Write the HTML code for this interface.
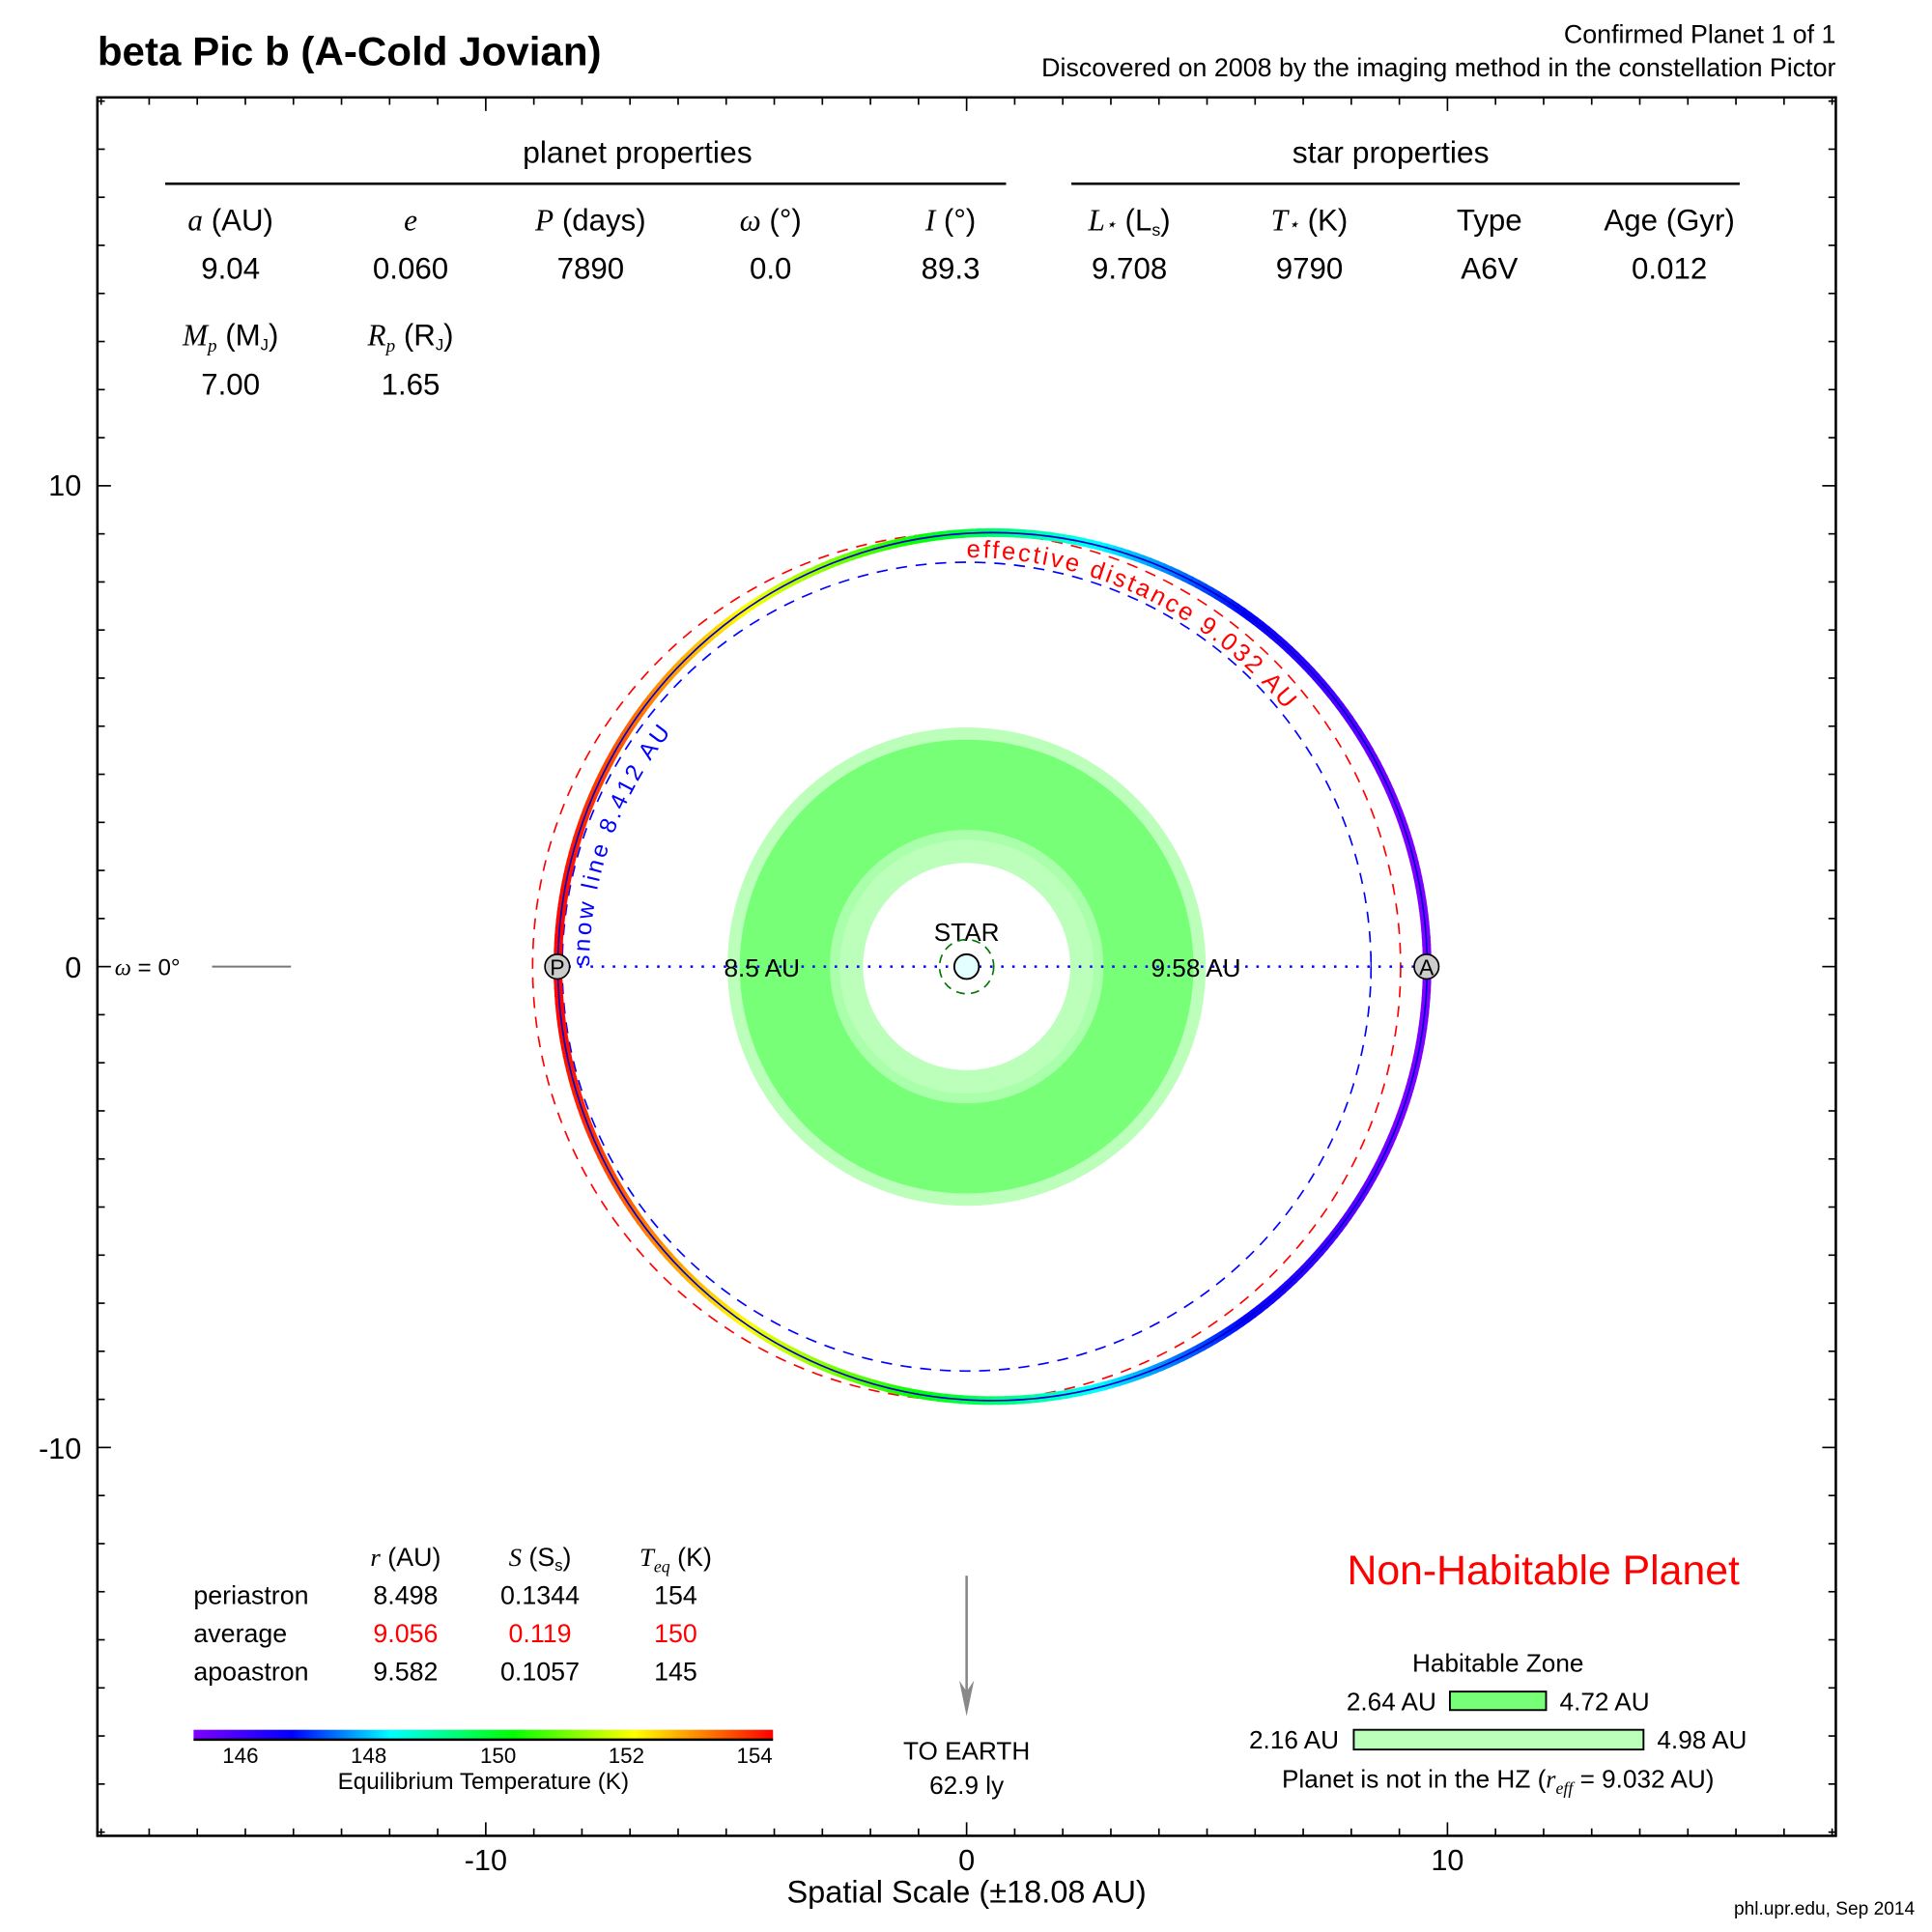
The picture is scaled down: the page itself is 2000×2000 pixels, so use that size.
<!DOCTYPE html>
<html><head><meta charset="utf-8">
<style>
html,body{margin:0;padding:0;background:#fff;}
svg{display:block;}
text{font-family:"Liberation Sans",Arial,sans-serif;fill:#000;}
.it{font-family:"Liberation Serif",serif;font-style:italic;}
</style></head>
<body>
<svg id="s" xmlns="http://www.w3.org/2000/svg" width="2000" height="2000" viewBox="0 0 1567 1567">
<rect width="1567" height="1567" fill="#fff"/>
<text x="79" y="53" font-size="33" font-weight="bold">beta Pic b (A-Cold Jovian)</text>
<text x="1489" y="35" font-size="21" text-anchor="end">Confirmed Planet 1 of 1</text>
<text x="1489" y="62" font-size="21" text-anchor="end">Discovered on 2008 by the imaging method in the constellation Pictor</text>

<g id="ticks" stroke="#000" stroke-width="1.3"></g>
<rect x="79" y="79" width="1410" height="1410" fill="none" stroke="#000" stroke-width="2"/>

<text x="517" y="132" font-size="25" text-anchor="middle">planet properties</text>
<line x1="134" y1="149" x2="816" y2="149" stroke="#000" stroke-width="2"/>
<text x="1128" y="132" font-size="25" text-anchor="middle">star properties</text>
<line x1="869" y1="149" x2="1411" y2="149" stroke="#000" stroke-width="2"/>
<g font-size="24.5" text-anchor="middle">
<text x="187" y="187"><tspan class="it">a</tspan> (AU)</text>
<text x="333" y="187" class="it">e</text>
<text x="479" y="187"><tspan class="it">P</tspan> (days)</text>
<text x="625" y="187"><tspan class="it">ω</tspan> (°)</text>
<text x="771" y="187"><tspan class="it">I</tspan> (°)</text>
<text x="916" y="187"><tspan class="it">L</tspan><tspan class="it" font-size="15">⋆</tspan> (L<tspan font-size="14" dy="4">s</tspan><tspan dy="-4">)</tspan></text>
<text x="1062" y="187"><tspan class="it">T</tspan><tspan class="it" font-size="15">⋆</tspan> (K)</text>
<text x="1208" y="187">Type</text>
<text x="1354" y="187">Age (Gyr)</text>
<text x="187" y="226">9.04</text>
<text x="333" y="226">0.060</text>
<text x="479" y="226">7890</text>
<text x="625" y="226">0.0</text>
<text x="771" y="226">89.3</text>
<text x="916" y="226">9.708</text>
<text x="1062" y="226">9790</text>
<text x="1208" y="226">A6V</text>
<text x="1354" y="226">0.012</text>
<text x="187" y="280"><tspan class="it">M</tspan><tspan class="it" font-size="15" dy="5">p</tspan><tspan dy="-5"> (M</tspan><tspan font-size="13" dy="4">J</tspan><tspan dy="-4">)</tspan></text>
<text x="333" y="280"><tspan class="it">R</tspan><tspan class="it" font-size="15" dy="5">p</tspan><tspan dy="-5"> (R</tspan><tspan font-size="13" dy="4">J</tspan><tspan dy="-4">)</tspan></text>
<text x="187" y="320">7.00</text>
<text x="333" y="320">1.65</text>
</g>

<g font-size="24">
<text x="66" y="402" text-anchor="end">10</text>
<text x="66" y="793" text-anchor="end">0</text>
<text x="66" y="1183" text-anchor="end">-10</text>
<text x="394" y="1517" text-anchor="middle">-10</text>
<text x="784" y="1517" text-anchor="middle">0</text>
<text x="1174" y="1517" text-anchor="middle">10</text>
<text x="784" y="1543" font-size="25.5" text-anchor="middle">Spatial Scale (±18.08 AU)</text>
</g>
<text x="1553" y="1553" font-size="15" text-anchor="end">phl.upr.edu, Sep 2014</text>
<text x="93" y="791" font-size="19"><tspan class="it">ω</tspan> = 0°</text>
<line x1="172" y1="784" x2="236" y2="784" stroke="#777" stroke-width="1.5"/>

<circle cx="784" cy="784" r="194" fill="#bbffbb"/>
<circle cx="784" cy="784" r="184" fill="#77ff77"/>
<circle cx="784" cy="784" r="111" fill="#aaffaa"/>
<circle cx="784" cy="784" r="103" fill="#bbffbb"/>
<circle cx="784" cy="784" r="84" fill="#fff"/>

<circle cx="784" cy="784" r="352" fill="none" stroke="#f00" stroke-width="1.3" stroke-dasharray="9,7"/>
<circle cx="784" cy="784" r="328" fill="none" stroke="#00f" stroke-width="1.3" stroke-dasharray="9,7"/>

<g id="orbit"></g>
<ellipse cx="805" cy="784" rx="352.5" ry="352" fill="none" stroke="#0000cc" stroke-width="1.3"/>

<defs>
<path id="effp" d="M784,452 A332,332 0 0 1 784,1116 A332,332 0 0 1 784,452"/>
<path id="snowp" d="M478,784 A306,306 0 0 1 1090,784 A306,306 0 0 1 478,784"/>
</defs>
<text font-size="20" style="fill:#f00"><textPath href="#effp" textLength="296" lengthAdjust="spacing">effective distance 9.032 AU</textPath></text>
<text font-size="19" style="fill:#00f"><textPath href="#snowp" textLength="205" lengthAdjust="spacing">snow line 8.412 AU</textPath></text>

<line x1="452" y1="784" x2="1157" y2="784" stroke="#00f" stroke-width="2" stroke-dasharray="2,7"/>
<line x1="1112" y1="774" x2="1112" y2="794" stroke="#00f" stroke-width="1"/>
<text x="618" y="792" font-size="20.5" text-anchor="middle">8.5 AU</text>
<text x="970" y="792" font-size="20.5" text-anchor="middle">9.58 AU</text>
<text x="784" y="763" font-size="20.5" text-anchor="middle">STAR</text>
<circle cx="784" cy="784" r="22" fill="none" stroke="#070" stroke-width="1.3" stroke-dasharray="7,5"/>
<circle cx="784" cy="784" r="10" fill="#e4ffff" stroke="#000" stroke-width="1.5"/>
<circle cx="452" cy="784" r="10" fill="#ccc" stroke="#000" stroke-width="1.3"/>
<text x="452" y="791" font-size="18" text-anchor="middle">P</text>
<circle cx="1157" cy="784" r="10" fill="#ccc" stroke="#000" stroke-width="1.3"/>
<text x="1157" y="791" font-size="18" text-anchor="middle">A</text>

<g font-size="21">
<text x="329" y="1270" text-anchor="middle"><tspan class="it">r</tspan> (AU)</text>
<text x="438" y="1270" text-anchor="middle"><tspan class="it">S</tspan> (S<tspan font-size="13" dy="4">s</tspan><tspan dy="-4">)</tspan></text>
<text x="548" y="1270" text-anchor="middle"><tspan class="it">T</tspan><tspan class="it" font-size="14" dy="5">eq</tspan><tspan dy="-5"> (K)</tspan></text>
<text x="157" y="1301">periastron</text>
<text x="157" y="1332">average</text>
<text x="157" y="1363">apoastron</text>
<text x="329" y="1301" text-anchor="middle">8.498</text>
<text x="438" y="1301" text-anchor="middle">0.1344</text>
<text x="548" y="1301" text-anchor="middle">154</text>
<text x="329" y="1332" text-anchor="middle" style="fill:#f00">9.056</text>
<text x="438" y="1332" text-anchor="middle" style="fill:#f00">0.119</text>
<text x="548" y="1332" text-anchor="middle" style="fill:#f00">150</text>
<text x="329" y="1363" text-anchor="middle">9.582</text>
<text x="438" y="1363" text-anchor="middle">0.1057</text>
<text x="548" y="1363" text-anchor="middle">145</text>
</g>

<defs>
<linearGradient id="cb" x1="0" x2="1" y1="0" y2="0">
<stop offset="0" stop-color="#8000ff"/>
<stop offset="0.17" stop-color="#0000ff"/>
<stop offset="0.34" stop-color="#00ffff"/>
<stop offset="0.55" stop-color="#00ff00"/>
<stop offset="0.76" stop-color="#ffff00"/>
<stop offset="0.88" stop-color="#ff8000"/>
<stop offset="1" stop-color="#ff0000"/>
</linearGradient>
</defs>
<rect x="157" y="1403" width="470" height="8" fill="url(#cb)"/>
<line x1="157" y1="1411" x2="627" y2="1411" stroke="#000" stroke-width="2"/>
<g font-size="17.5" text-anchor="middle">
<text x="195" y="1430">146</text>
<text x="299" y="1430">148</text>
<text x="404" y="1430">150</text>
<text x="508" y="1430">152</text>
<text x="612" y="1430">154</text>
<text x="392" y="1451" font-size="19">Equilibrium Temperature (K)</text>
</g>

<line x1="784" y1="1278" x2="784" y2="1385" stroke="#888" stroke-width="2"/>
<polygon points="778,1363 784,1392 790,1363 784,1372" fill="#888"/>
<text x="784" y="1427" font-size="20.5" text-anchor="middle">TO EARTH</text>
<text x="784" y="1455" font-size="20.5" text-anchor="middle">62.9 ly</text>

<text x="1411" y="1285" font-size="33.5" text-anchor="end" style="fill:#f00">Non-Habitable Planet</text>
<g font-size="20.5">
<text x="1215" y="1356" text-anchor="middle">Habitable Zone</text>
<rect x="1176" y="1372" width="78" height="15" fill="#77ff77" stroke="#000" stroke-width="1.5"/>
<text x="1165" y="1387" text-anchor="end">2.64 AU</text>
<text x="1265" y="1387">4.72 AU</text>
<rect x="1098" y="1403" width="235" height="16" fill="#bbffbb" stroke="#000" stroke-width="1.5"/>
<text x="1086" y="1418" text-anchor="end">2.16 AU</text>
<text x="1344" y="1418">4.98 AU</text>
<text x="1215" y="1450" text-anchor="middle">Planet is not in the HZ (<tspan class="it">r</tspan><tspan class="it" font-size="14" dy="5">eff</tspan><tspan dy="-5"> = 9.032 AU)</tspan></text>
</g>
</svg>
<script>
(function(){
var NS="http://www.w3.org/2000/svg";
var tk=document.getElementById("ticks");
function ln(x1,y1,x2,y2){var l=document.createElementNS(NS,"line");l.setAttribute("x1",x1);l.setAttribute("y1",y1);l.setAttribute("x2",x2);l.setAttribute("y2",y2);tk.appendChild(l);}
for(var k=-18;k<=18;k++){
 var p=784+k*39; var L=(k%10===0)?11:6;
 ln(p,1489,p,1489-L); ln(p,79,p,79+L);
 ln(79,p,79+L,p); ln(1489,p,1489-L,p);
}
var g=document.getElementById("orbit");
var cx=805,cy=784,a=352.5,b=352,e=0.06,A=9.04;
var stops=[[0,[128,0,255]],[0.17,[0,0,255]],[0.34,[0,255,255]],[0.55,[0,255,0]],[0.76,[255,255,0]],[0.88,[255,128,0]],[1,[255,0,0]]];
function col(f){f=Math.max(0,Math.min(1,f));for(var i=1;i<stops.length;i++){if(f<=stops[i][0]){var s0=stops[i-1],s1=stops[i];var t=(f-s0[0])/(s1[0]-s0[0]);var c=[0,1,2].map(function(j){return Math.round(s0[1][j]+(s1[1][j]-s0[1][j])*t);});return "rgb("+c.join(",")+")";}}return "rgb(255,0,0)";}
var N=360;
for(var i=0;i<N;i++){
 var E1=i/N*2*Math.PI,E2=(i+1.3)/N*2*Math.PI,Em=(i+0.5)/N*2*Math.PI;
 var r=A*(1-e*Math.cos(Em));
 var T=154*Math.sqrt(8.498/r);
 var f=(T-145.27)/(154.03-145.27);
 var l=document.createElementNS(NS,"line");
 l.setAttribute("x1",cx-a*Math.cos(E1));l.setAttribute("y1",cy-b*Math.sin(E1));
 l.setAttribute("x2",cx-a*Math.cos(E2));l.setAttribute("y2",cy-b*Math.sin(E2));
 l.setAttribute("stroke",col(f));l.setAttribute("stroke-width","7");
 g.appendChild(l);
}
})();
</script>
</body></html>
